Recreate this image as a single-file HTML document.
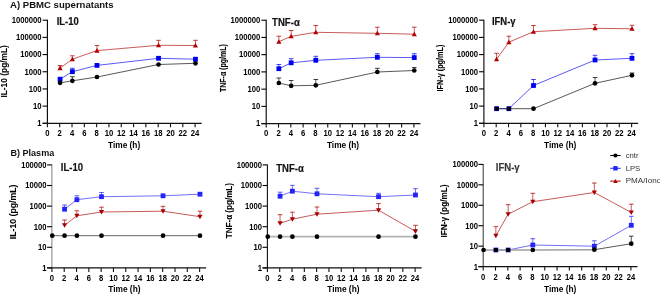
<!DOCTYPE html>
<html><head><meta charset="utf-8"><title>Cytokine time course</title>
<style>
html,body{margin:0;padding:0;background:#fff;}
body{width:660px;height:294px;overflow:hidden;font-family:"Liberation Sans",sans-serif;}
svg{display:block;will-change:transform;}
svg text{font-family:"Liberation Sans",sans-serif;}
</style></head><body>
<svg width="660" height="294" viewBox="0 0 660 294" font-family="Liberation Sans, sans-serif"><text x="10.1" y="7.8" font-size="9.7" font-weight="bold" text-anchor="start" fill="#111" textLength="103.5" lengthAdjust="spacingAndGlyphs">A) PBMC supernatants</text>
<text x="10.5" y="156.2" font-size="9.5" font-weight="bold" text-anchor="start" fill="#111" textLength="43.7" lengthAdjust="spacingAndGlyphs">B) Plasma</text>
<g><path d="M47.4 19.7V123.3" stroke="#000" stroke-width="1.1" fill="none"/><path d="M42.6 20.2H47.4" stroke="#000" stroke-width="1.1"/><text transform="translate(41.6 23) scale(0.94 1)" font-size="8.2" font-weight="bold" text-anchor="end" fill="#000">1000000</text><path d="M42.6 37.38H47.4" stroke="#000" stroke-width="1.1"/><text transform="translate(41.6 40.18) scale(0.94 1)" font-size="8.2" font-weight="bold" text-anchor="end" fill="#000">100000</text><path d="M42.6 54.57H47.4" stroke="#000" stroke-width="1.1"/><text transform="translate(41.6 57.37) scale(0.94 1)" font-size="8.2" font-weight="bold" text-anchor="end" fill="#000">10000</text><path d="M42.6 71.75H47.4" stroke="#000" stroke-width="1.1"/><text transform="translate(41.6 74.55) scale(0.94 1)" font-size="8.2" font-weight="bold" text-anchor="end" fill="#000">1000</text><path d="M42.6 88.93H47.4" stroke="#000" stroke-width="1.1"/><text transform="translate(41.6 91.73) scale(0.94 1)" font-size="8.2" font-weight="bold" text-anchor="end" fill="#000">100</text><path d="M42.6 106.12H47.4" stroke="#000" stroke-width="1.1"/><text transform="translate(41.6 108.92) scale(0.94 1)" font-size="8.2" font-weight="bold" text-anchor="end" fill="#000">10</text><path d="M42.6 123.3H47.4" stroke="#000" stroke-width="1.1"/><text transform="translate(41.6 126.1) scale(0.94 1)" font-size="8.2" font-weight="bold" text-anchor="end" fill="#000">1</text><path d="M42.6 123.3H201.68" stroke="#111" stroke-width="1.2" fill="none"/><path d="M47.4 123.3V127.3" stroke="#111" stroke-width="1.1"/><text transform="translate(47.4 135.9) scale(0.94 1)" font-size="8.2" font-weight="bold" text-anchor="middle" fill="#000">0</text><path d="M59.71 123.3V127.3" stroke="#111" stroke-width="1.1"/><text transform="translate(59.71 135.9) scale(0.94 1)" font-size="8.2" font-weight="bold" text-anchor="middle" fill="#000">2</text><path d="M72.02 123.3V127.3" stroke="#111" stroke-width="1.1"/><text transform="translate(72.02 135.9) scale(0.94 1)" font-size="8.2" font-weight="bold" text-anchor="middle" fill="#000">4</text><path d="M84.33 123.3V127.3" stroke="#111" stroke-width="1.1"/><text transform="translate(84.33 135.9) scale(0.94 1)" font-size="8.2" font-weight="bold" text-anchor="middle" fill="#000">6</text><path d="M96.64 123.3V127.3" stroke="#111" stroke-width="1.1"/><text transform="translate(96.64 135.9) scale(0.94 1)" font-size="8.2" font-weight="bold" text-anchor="middle" fill="#000">8</text><path d="M108.95 123.3V127.3" stroke="#111" stroke-width="1.1"/><text transform="translate(108.95 135.9) scale(0.94 1)" font-size="8.2" font-weight="bold" text-anchor="middle" fill="#000">10</text><path d="M121.26 123.3V127.3" stroke="#111" stroke-width="1.1"/><text transform="translate(121.26 135.9) scale(0.94 1)" font-size="8.2" font-weight="bold" text-anchor="middle" fill="#000">12</text><path d="M133.57 123.3V127.3" stroke="#111" stroke-width="1.1"/><text transform="translate(133.57 135.9) scale(0.94 1)" font-size="8.2" font-weight="bold" text-anchor="middle" fill="#000">14</text><path d="M145.88 123.3V127.3" stroke="#111" stroke-width="1.1"/><text transform="translate(145.88 135.9) scale(0.94 1)" font-size="8.2" font-weight="bold" text-anchor="middle" fill="#000">16</text><path d="M158.19 123.3V127.3" stroke="#111" stroke-width="1.1"/><text transform="translate(158.19 135.9) scale(0.94 1)" font-size="8.2" font-weight="bold" text-anchor="middle" fill="#000">18</text><path d="M170.5 123.3V127.3" stroke="#111" stroke-width="1.1"/><text transform="translate(170.5 135.9) scale(0.94 1)" font-size="8.2" font-weight="bold" text-anchor="middle" fill="#000">20</text><path d="M182.81 123.3V127.3" stroke="#111" stroke-width="1.1"/><text transform="translate(182.81 135.9) scale(0.94 1)" font-size="8.2" font-weight="bold" text-anchor="middle" fill="#000">22</text><path d="M195.12 123.3V127.3" stroke="#111" stroke-width="1.1"/><text transform="translate(195.12 135.9) scale(0.94 1)" font-size="8.2" font-weight="bold" text-anchor="middle" fill="#000">24</text><text x="124.1" y="147.5" font-size="8.8" font-weight="bold" text-anchor="middle" fill="#000" textLength="32.2" lengthAdjust="spacingAndGlyphs">Time (h)</text><text x="56.7" y="24.7" font-size="10.2" font-weight="bold" text-anchor="start" fill="#111" textLength="22" lengthAdjust="spacingAndGlyphs" stroke="#111" stroke-width="0.18">IL-10</text><text transform="translate(7.2 71.35) rotate(-90)" x="0" y="0" font-size="8.6" font-weight="bold" text-anchor="middle" textLength="52.5" lengthAdjust="spacingAndGlyphs" stroke="#000" stroke-width="0.08">IL-10 (pg/mL)</text><polyline points="60.06,68.1 72.37,59.2 96.99,50.6 158.54,45.3 195.47,45.5" fill="none" stroke="#b00000" stroke-width="0.65" stroke-linejoin="round"/><polyline points="60.06,79.2 72.37,71.7 96.99,65.4 158.54,58.3 195.47,59.2" fill="none" stroke="#0000f0" stroke-width="0.65" stroke-linejoin="round"/><polyline points="60.06,82.8 72.37,80.8 96.99,77 158.54,64.5 195.47,63.3" fill="none" stroke="#222" stroke-width="0.75" stroke-linejoin="round"/><path d="M60.06 68.1V65.5" stroke="#b00000" stroke-width="0.65" fill="none"/><path d="M57.76 65.5H62.36" stroke="#b00000" stroke-width="0.75" fill="none"/><path d="M72.37 59.2V55.8" stroke="#b00000" stroke-width="0.65" fill="none"/><path d="M70.07 55.8H74.67" stroke="#b00000" stroke-width="0.75" fill="none"/><path d="M96.99 50.6V45.5" stroke="#b00000" stroke-width="0.65" fill="none"/><path d="M94.69 45.5H99.29" stroke="#b00000" stroke-width="0.75" fill="none"/><path d="M158.54 45.3V40.3" stroke="#b00000" stroke-width="0.65" fill="none"/><path d="M156.24 40.3H160.84" stroke="#b00000" stroke-width="0.75" fill="none"/><path d="M195.47 45.5V40.3" stroke="#b00000" stroke-width="0.65" fill="none"/><path d="M193.17 40.3H197.77" stroke="#b00000" stroke-width="0.75" fill="none"/><path d="M72.37 71.7V68.3" stroke="#0000f0" stroke-width="0.65" fill="none"/><path d="M70.07 68.3H74.67" stroke="#0000f0" stroke-width="0.75" fill="none"/><path d="M72.37 80.8V76.7" stroke="#000" stroke-width="0.65" fill="none"/><path d="M70.07 76.7H74.67" stroke="#000" stroke-width="0.75" fill="none"/><path d="M60.06 65.57L62.66 70.17L57.46 70.17Z" fill="#b00000"/><path d="M72.37 56.67L74.97 61.27L69.77 61.27Z" fill="#b00000"/><path d="M96.99 48.07L99.59 52.67L94.39 52.67Z" fill="#b00000"/><path d="M158.54 42.77L161.14 47.37L155.94 47.37Z" fill="#b00000"/><path d="M195.47 42.97L198.07 47.57L192.87 47.57Z" fill="#b00000"/><rect x="57.66" y="76.8" width="4.8" height="4.8" fill="#0000f0"/><rect x="69.97" y="69.3" width="4.8" height="4.8" fill="#0000f0"/><rect x="94.59" y="63" width="4.8" height="4.8" fill="#0000f0"/><rect x="156.14" y="55.9" width="4.8" height="4.8" fill="#0000f0"/><rect x="193.07" y="56.8" width="4.8" height="4.8" fill="#0000f0"/><circle cx="60.06" cy="82.8" r="2.35" fill="#000"/><circle cx="72.37" cy="80.8" r="2.35" fill="#000"/><circle cx="96.99" cy="77" r="2.35" fill="#000"/><circle cx="158.54" cy="64.5" r="2.35" fill="#000"/><circle cx="195.47" cy="63.3" r="2.35" fill="#000"/></g>
<g><path d="M266.2 19.7V123.6" stroke="#000" stroke-width="1.1" fill="none"/><path d="M261.4 20.2H266.2" stroke="#000" stroke-width="1.1"/><text transform="translate(260.4 23) scale(0.94 1)" font-size="8.2" font-weight="bold" text-anchor="end" fill="#000">1000000</text><path d="M261.4 37.43H266.2" stroke="#000" stroke-width="1.1"/><text transform="translate(260.4 40.23) scale(0.94 1)" font-size="8.2" font-weight="bold" text-anchor="end" fill="#000">100000</text><path d="M261.4 54.67H266.2" stroke="#000" stroke-width="1.1"/><text transform="translate(260.4 57.47) scale(0.94 1)" font-size="8.2" font-weight="bold" text-anchor="end" fill="#000">10000</text><path d="M261.4 71.9H266.2" stroke="#000" stroke-width="1.1"/><text transform="translate(260.4 74.7) scale(0.94 1)" font-size="8.2" font-weight="bold" text-anchor="end" fill="#000">1000</text><path d="M261.4 89.13H266.2" stroke="#000" stroke-width="1.1"/><text transform="translate(260.4 91.93) scale(0.94 1)" font-size="8.2" font-weight="bold" text-anchor="end" fill="#000">100</text><path d="M261.4 106.37H266.2" stroke="#000" stroke-width="1.1"/><text transform="translate(260.4 109.17) scale(0.94 1)" font-size="8.2" font-weight="bold" text-anchor="end" fill="#000">10</text><path d="M261.4 123.6H266.2" stroke="#000" stroke-width="1.1"/><text transform="translate(260.4 126.4) scale(0.94 1)" font-size="8.2" font-weight="bold" text-anchor="end" fill="#000">1</text><path d="M261.4 123.6H420.47" stroke="#111" stroke-width="1.2" fill="none"/><path d="M266.2 123.6V127.6" stroke="#111" stroke-width="1.1"/><text transform="translate(266.2 136.2) scale(0.94 1)" font-size="8.2" font-weight="bold" text-anchor="middle" fill="#000">0</text><path d="M278.51 123.6V127.6" stroke="#111" stroke-width="1.1"/><text transform="translate(278.51 136.2) scale(0.94 1)" font-size="8.2" font-weight="bold" text-anchor="middle" fill="#000">2</text><path d="M290.82 123.6V127.6" stroke="#111" stroke-width="1.1"/><text transform="translate(290.82 136.2) scale(0.94 1)" font-size="8.2" font-weight="bold" text-anchor="middle" fill="#000">4</text><path d="M303.13 123.6V127.6" stroke="#111" stroke-width="1.1"/><text transform="translate(303.13 136.2) scale(0.94 1)" font-size="8.2" font-weight="bold" text-anchor="middle" fill="#000">6</text><path d="M315.44 123.6V127.6" stroke="#111" stroke-width="1.1"/><text transform="translate(315.44 136.2) scale(0.94 1)" font-size="8.2" font-weight="bold" text-anchor="middle" fill="#000">8</text><path d="M327.75 123.6V127.6" stroke="#111" stroke-width="1.1"/><text transform="translate(327.75 136.2) scale(0.94 1)" font-size="8.2" font-weight="bold" text-anchor="middle" fill="#000">10</text><path d="M340.06 123.6V127.6" stroke="#111" stroke-width="1.1"/><text transform="translate(340.06 136.2) scale(0.94 1)" font-size="8.2" font-weight="bold" text-anchor="middle" fill="#000">12</text><path d="M352.37 123.6V127.6" stroke="#111" stroke-width="1.1"/><text transform="translate(352.37 136.2) scale(0.94 1)" font-size="8.2" font-weight="bold" text-anchor="middle" fill="#000">14</text><path d="M364.68 123.6V127.6" stroke="#111" stroke-width="1.1"/><text transform="translate(364.68 136.2) scale(0.94 1)" font-size="8.2" font-weight="bold" text-anchor="middle" fill="#000">16</text><path d="M376.99 123.6V127.6" stroke="#111" stroke-width="1.1"/><text transform="translate(376.99 136.2) scale(0.94 1)" font-size="8.2" font-weight="bold" text-anchor="middle" fill="#000">18</text><path d="M389.3 123.6V127.6" stroke="#111" stroke-width="1.1"/><text transform="translate(389.3 136.2) scale(0.94 1)" font-size="8.2" font-weight="bold" text-anchor="middle" fill="#000">20</text><path d="M401.61 123.6V127.6" stroke="#111" stroke-width="1.1"/><text transform="translate(401.61 136.2) scale(0.94 1)" font-size="8.2" font-weight="bold" text-anchor="middle" fill="#000">22</text><path d="M413.92 123.6V127.6" stroke="#111" stroke-width="1.1"/><text transform="translate(413.92 136.2) scale(0.94 1)" font-size="8.2" font-weight="bold" text-anchor="middle" fill="#000">24</text><text x="343" y="147.5" font-size="8.8" font-weight="bold" text-anchor="middle" fill="#000" textLength="32.2" lengthAdjust="spacingAndGlyphs">Time (h)</text><text x="272.1" y="25.8" font-size="10.1" font-weight="bold" text-anchor="start" fill="#111" textLength="27.7" lengthAdjust="spacingAndGlyphs" stroke="#111" stroke-width="0.18">TNF-α</text><text transform="translate(226.4 68.1) rotate(-90)" x="0" y="0" font-size="8.6" font-weight="bold" text-anchor="middle" textLength="48" lengthAdjust="spacingAndGlyphs" stroke="#000" stroke-width="0.08">TNF-α (pg/mL)</text><polyline points="278.86,41.7 291.17,36.3 315.79,32.3 377.34,33.3 414.27,34.2" fill="none" stroke="#b00000" stroke-width="0.65" stroke-linejoin="round"/><polyline points="278.86,68.7 291.17,62.8 315.79,60.3 377.34,57.3 414.27,57.6" fill="none" stroke="#0000f0" stroke-width="0.65" stroke-linejoin="round"/><polyline points="278.86,83 291.17,85.8 315.79,85.3 377.34,72 414.27,70.5" fill="none" stroke="#222" stroke-width="0.75" stroke-linejoin="round"/><path d="M278.86 41.7V36.2" stroke="#b00000" stroke-width="0.65" fill="none"/><path d="M276.56 36.2H281.16" stroke="#b00000" stroke-width="0.75" fill="none"/><path d="M291.17 36.3V30.5" stroke="#b00000" stroke-width="0.65" fill="none"/><path d="M288.87 30.5H293.47" stroke="#b00000" stroke-width="0.75" fill="none"/><path d="M315.79 32.3V25.5" stroke="#b00000" stroke-width="0.65" fill="none"/><path d="M313.49 25.5H318.09" stroke="#b00000" stroke-width="0.75" fill="none"/><path d="M377.34 33.3V27.2" stroke="#b00000" stroke-width="0.65" fill="none"/><path d="M375.04 27.2H379.64" stroke="#b00000" stroke-width="0.75" fill="none"/><path d="M414.27 34.2V27.2" stroke="#b00000" stroke-width="0.65" fill="none"/><path d="M411.97 27.2H416.57" stroke="#b00000" stroke-width="0.75" fill="none"/><path d="M278.86 68.7V64.5" stroke="#0000f0" stroke-width="0.65" fill="none"/><path d="M276.56 64.5H281.16" stroke="#0000f0" stroke-width="0.75" fill="none"/><path d="M291.17 62.8V58.7" stroke="#0000f0" stroke-width="0.65" fill="none"/><path d="M288.87 58.7H293.47" stroke="#0000f0" stroke-width="0.75" fill="none"/><path d="M315.79 60.3V56.3" stroke="#0000f0" stroke-width="0.65" fill="none"/><path d="M313.49 56.3H318.09" stroke="#0000f0" stroke-width="0.75" fill="none"/><path d="M377.34 57.3V53.7" stroke="#0000f0" stroke-width="0.65" fill="none"/><path d="M375.04 53.7H379.64" stroke="#0000f0" stroke-width="0.75" fill="none"/><path d="M414.27 57.6V53.7" stroke="#0000f0" stroke-width="0.65" fill="none"/><path d="M411.97 53.7H416.57" stroke="#0000f0" stroke-width="0.75" fill="none"/><path d="M278.86 83V78" stroke="#000" stroke-width="0.65" fill="none"/><path d="M276.56 78H281.16" stroke="#000" stroke-width="0.75" fill="none"/><path d="M291.17 85.8V80.5" stroke="#000" stroke-width="0.65" fill="none"/><path d="M288.87 80.5H293.47" stroke="#000" stroke-width="0.75" fill="none"/><path d="M315.79 85.3V79.5" stroke="#000" stroke-width="0.65" fill="none"/><path d="M313.49 79.5H318.09" stroke="#000" stroke-width="0.75" fill="none"/><path d="M377.34 72V68.3" stroke="#000" stroke-width="0.65" fill="none"/><path d="M375.04 68.3H379.64" stroke="#000" stroke-width="0.75" fill="none"/><path d="M414.27 70.5V67.5" stroke="#000" stroke-width="0.65" fill="none"/><path d="M411.97 67.5H416.57" stroke="#000" stroke-width="0.75" fill="none"/><path d="M278.86 39.17L281.46 43.77L276.26 43.77Z" fill="#b00000"/><path d="M291.17 33.77L293.77 38.37L288.57 38.37Z" fill="#b00000"/><path d="M315.79 29.77L318.39 34.37L313.19 34.37Z" fill="#b00000"/><path d="M377.34 30.77L379.94 35.37L374.74 35.37Z" fill="#b00000"/><path d="M414.27 31.67L416.87 36.27L411.67 36.27Z" fill="#b00000"/><rect x="276.46" y="66.3" width="4.8" height="4.8" fill="#0000f0"/><rect x="288.77" y="60.4" width="4.8" height="4.8" fill="#0000f0"/><rect x="313.39" y="57.9" width="4.8" height="4.8" fill="#0000f0"/><rect x="374.94" y="54.9" width="4.8" height="4.8" fill="#0000f0"/><rect x="411.87" y="55.2" width="4.8" height="4.8" fill="#0000f0"/><circle cx="278.86" cy="83" r="2.35" fill="#000"/><circle cx="291.17" cy="85.8" r="2.35" fill="#000"/><circle cx="315.79" cy="85.3" r="2.35" fill="#000"/><circle cx="377.34" cy="72" r="2.35" fill="#000"/><circle cx="414.27" cy="70.5" r="2.35" fill="#000"/></g>
<g><path d="M483.9 19.7V123.3" stroke="#000" stroke-width="1.1" fill="none"/><path d="M479.1 20.2H483.9" stroke="#000" stroke-width="1.1"/><text transform="translate(478.1 23) scale(0.94 1)" font-size="8.2" font-weight="bold" text-anchor="end" fill="#000">1000000</text><path d="M479.1 37.38H483.9" stroke="#000" stroke-width="1.1"/><text transform="translate(478.1 40.18) scale(0.94 1)" font-size="8.2" font-weight="bold" text-anchor="end" fill="#000">100000</text><path d="M479.1 54.57H483.9" stroke="#000" stroke-width="1.1"/><text transform="translate(478.1 57.37) scale(0.94 1)" font-size="8.2" font-weight="bold" text-anchor="end" fill="#000">10000</text><path d="M479.1 71.75H483.9" stroke="#000" stroke-width="1.1"/><text transform="translate(478.1 74.55) scale(0.94 1)" font-size="8.2" font-weight="bold" text-anchor="end" fill="#000">1000</text><path d="M479.1 88.93H483.9" stroke="#000" stroke-width="1.1"/><text transform="translate(478.1 91.73) scale(0.94 1)" font-size="8.2" font-weight="bold" text-anchor="end" fill="#000">100</text><path d="M479.1 106.12H483.9" stroke="#000" stroke-width="1.1"/><text transform="translate(478.1 108.92) scale(0.94 1)" font-size="8.2" font-weight="bold" text-anchor="end" fill="#000">10</text><path d="M479.1 123.3H483.9" stroke="#000" stroke-width="1.1"/><text transform="translate(478.1 126.1) scale(0.94 1)" font-size="8.2" font-weight="bold" text-anchor="end" fill="#000">1</text><path d="M479.1 123.3H638.17" stroke="#111" stroke-width="1.2" fill="none"/><path d="M483.9 123.3V127.3" stroke="#111" stroke-width="1.1"/><text transform="translate(483.9 135.9) scale(0.94 1)" font-size="8.2" font-weight="bold" text-anchor="middle" fill="#000">0</text><path d="M496.21 123.3V127.3" stroke="#111" stroke-width="1.1"/><text transform="translate(496.21 135.9) scale(0.94 1)" font-size="8.2" font-weight="bold" text-anchor="middle" fill="#000">2</text><path d="M508.52 123.3V127.3" stroke="#111" stroke-width="1.1"/><text transform="translate(508.52 135.9) scale(0.94 1)" font-size="8.2" font-weight="bold" text-anchor="middle" fill="#000">4</text><path d="M520.83 123.3V127.3" stroke="#111" stroke-width="1.1"/><text transform="translate(520.83 135.9) scale(0.94 1)" font-size="8.2" font-weight="bold" text-anchor="middle" fill="#000">6</text><path d="M533.14 123.3V127.3" stroke="#111" stroke-width="1.1"/><text transform="translate(533.14 135.9) scale(0.94 1)" font-size="8.2" font-weight="bold" text-anchor="middle" fill="#000">8</text><path d="M545.45 123.3V127.3" stroke="#111" stroke-width="1.1"/><text transform="translate(545.45 135.9) scale(0.94 1)" font-size="8.2" font-weight="bold" text-anchor="middle" fill="#000">10</text><path d="M557.76 123.3V127.3" stroke="#111" stroke-width="1.1"/><text transform="translate(557.76 135.9) scale(0.94 1)" font-size="8.2" font-weight="bold" text-anchor="middle" fill="#000">12</text><path d="M570.07 123.3V127.3" stroke="#111" stroke-width="1.1"/><text transform="translate(570.07 135.9) scale(0.94 1)" font-size="8.2" font-weight="bold" text-anchor="middle" fill="#000">14</text><path d="M582.38 123.3V127.3" stroke="#111" stroke-width="1.1"/><text transform="translate(582.38 135.9) scale(0.94 1)" font-size="8.2" font-weight="bold" text-anchor="middle" fill="#000">16</text><path d="M594.69 123.3V127.3" stroke="#111" stroke-width="1.1"/><text transform="translate(594.69 135.9) scale(0.94 1)" font-size="8.2" font-weight="bold" text-anchor="middle" fill="#000">18</text><path d="M607 123.3V127.3" stroke="#111" stroke-width="1.1"/><text transform="translate(607 135.9) scale(0.94 1)" font-size="8.2" font-weight="bold" text-anchor="middle" fill="#000">20</text><path d="M619.31 123.3V127.3" stroke="#111" stroke-width="1.1"/><text transform="translate(619.31 135.9) scale(0.94 1)" font-size="8.2" font-weight="bold" text-anchor="middle" fill="#000">22</text><path d="M631.62 123.3V127.3" stroke="#111" stroke-width="1.1"/><text transform="translate(631.62 135.9) scale(0.94 1)" font-size="8.2" font-weight="bold" text-anchor="middle" fill="#000">24</text><text x="560.2" y="147.5" font-size="8.8" font-weight="bold" text-anchor="middle" fill="#000" textLength="32.2" lengthAdjust="spacingAndGlyphs">Time (h)</text><text x="491.9" y="24.7" font-size="10.2" font-weight="bold" text-anchor="start" fill="#111" textLength="23.7" lengthAdjust="spacingAndGlyphs" stroke="#111" stroke-width="0.18">IFN-γ</text><text transform="translate(443.4 68.05) rotate(-90)" x="0" y="0" font-size="8.6" font-weight="bold" text-anchor="middle" textLength="46.9" lengthAdjust="spacingAndGlyphs" stroke="#000" stroke-width="0.08">IFN-γ (pg/mL)</text><polyline points="496.56,59.2 508.87,42.2 533.49,31.7 595.04,28.3 631.97,28.8" fill="none" stroke="#b00000" stroke-width="0.65" stroke-linejoin="round"/><polyline points="496.56,108.7 508.87,108.7 533.49,85.5 595.04,60 631.97,58.3" fill="none" stroke="#0000f0" stroke-width="0.65" stroke-linejoin="round"/><polyline points="496.56,108.7 508.87,108.7 533.49,108.7 595.04,83.3 631.97,75.3" fill="none" stroke="#222" stroke-width="0.75" stroke-linejoin="round"/><path d="M496.56 59.2V53.3" stroke="#b00000" stroke-width="0.65" fill="none"/><path d="M494.26 53.3H498.86" stroke="#b00000" stroke-width="0.75" fill="none"/><path d="M508.87 42.2V36.2" stroke="#b00000" stroke-width="0.65" fill="none"/><path d="M506.57 36.2H511.17" stroke="#b00000" stroke-width="0.75" fill="none"/><path d="M533.49 31.7V25.5" stroke="#b00000" stroke-width="0.65" fill="none"/><path d="M531.19 25.5H535.79" stroke="#b00000" stroke-width="0.75" fill="none"/><path d="M595.04 28.3V24.7" stroke="#b00000" stroke-width="0.65" fill="none"/><path d="M592.74 24.7H597.34" stroke="#b00000" stroke-width="0.75" fill="none"/><path d="M631.97 28.8V25.3" stroke="#b00000" stroke-width="0.65" fill="none"/><path d="M629.67 25.3H634.27" stroke="#b00000" stroke-width="0.75" fill="none"/><path d="M533.49 85.5V79.5" stroke="#0000f0" stroke-width="0.65" fill="none"/><path d="M531.19 79.5H535.79" stroke="#0000f0" stroke-width="0.75" fill="none"/><path d="M595.04 60V55.3" stroke="#0000f0" stroke-width="0.65" fill="none"/><path d="M592.74 55.3H597.34" stroke="#0000f0" stroke-width="0.75" fill="none"/><path d="M631.97 58.3V53.7" stroke="#0000f0" stroke-width="0.65" fill="none"/><path d="M629.67 53.7H634.27" stroke="#0000f0" stroke-width="0.75" fill="none"/><path d="M595.04 83.3V77.5" stroke="#000" stroke-width="0.65" fill="none"/><path d="M592.74 77.5H597.34" stroke="#000" stroke-width="0.75" fill="none"/><path d="M631.97 75.3V73" stroke="#000" stroke-width="0.65" fill="none"/><path d="M629.67 73H634.27" stroke="#000" stroke-width="0.75" fill="none"/><path d="M496.56 56.67L499.16 61.27L493.96 61.27Z" fill="#b00000"/><path d="M508.87 39.67L511.47 44.27L506.27 44.27Z" fill="#b00000"/><path d="M533.49 29.17L536.09 33.77L530.89 33.77Z" fill="#b00000"/><path d="M595.04 25.77L597.64 30.37L592.44 30.37Z" fill="#b00000"/><path d="M631.97 26.27L634.57 30.87L629.37 30.87Z" fill="#b00000"/><rect x="494.16" y="106.3" width="4.8" height="4.8" fill="#0000f0"/><rect x="506.47" y="106.3" width="4.8" height="4.8" fill="#0000f0"/><rect x="531.09" y="83.1" width="4.8" height="4.8" fill="#0000f0"/><rect x="592.64" y="57.6" width="4.8" height="4.8" fill="#0000f0"/><rect x="629.57" y="55.9" width="4.8" height="4.8" fill="#0000f0"/><rect x="494.56" y="106.7" width="4" height="4" rx="0.8" fill="#000"/><rect x="506.87" y="106.7" width="4" height="4" rx="0.8" fill="#000"/><circle cx="533.49" cy="108.7" r="2.35" fill="#000"/><circle cx="595.04" cy="83.3" r="2.35" fill="#000"/><circle cx="631.97" cy="75.3" r="2.35" fill="#000"/></g>
<g><path d="M51.9 164.4V267.9" stroke="#8a8a8a" stroke-width="1.1" fill="none"/><path d="M47.1 164.9H51.9" stroke="#000" stroke-width="1.1"/><text transform="translate(46.6 167.85) scale(0.92 1)" font-size="8.3" font-weight="bold" text-anchor="end" fill="#000">100000</text><path d="M47.1 185.5H51.9" stroke="#000" stroke-width="1.1"/><text transform="translate(46.6 188.45) scale(0.92 1)" font-size="8.3" font-weight="bold" text-anchor="end" fill="#000">10000</text><path d="M47.1 206.1H51.9" stroke="#000" stroke-width="1.1"/><text transform="translate(46.6 209.05) scale(0.92 1)" font-size="8.3" font-weight="bold" text-anchor="end" fill="#000">1000</text><path d="M47.1 226.7H51.9" stroke="#000" stroke-width="1.1"/><text transform="translate(46.6 229.65) scale(0.92 1)" font-size="8.3" font-weight="bold" text-anchor="end" fill="#000">100</text><path d="M47.1 247.3H51.9" stroke="#000" stroke-width="1.1"/><text transform="translate(46.6 250.25) scale(0.92 1)" font-size="8.3" font-weight="bold" text-anchor="end" fill="#000">10</text><path d="M47.1 267.9H51.9" stroke="#000" stroke-width="1.1"/><text transform="translate(46.6 270.85) scale(0.92 1)" font-size="8.3" font-weight="bold" text-anchor="end" fill="#000">1</text><path d="M47.1 267.9H206.18" stroke="#111" stroke-width="1.2" fill="none"/><path d="M51.9 267.9V271.9" stroke="#111" stroke-width="1.1"/><text transform="translate(51.9 280.9) scale(0.92 1)" font-size="8.3" font-weight="bold" text-anchor="middle" fill="#000">0</text><path d="M64.21 267.9V271.9" stroke="#111" stroke-width="1.1"/><text transform="translate(64.21 280.9) scale(0.92 1)" font-size="8.3" font-weight="bold" text-anchor="middle" fill="#000">2</text><path d="M76.52 267.9V271.9" stroke="#111" stroke-width="1.1"/><text transform="translate(76.52 280.9) scale(0.92 1)" font-size="8.3" font-weight="bold" text-anchor="middle" fill="#000">4</text><path d="M88.83 267.9V271.9" stroke="#111" stroke-width="1.1"/><text transform="translate(88.83 280.9) scale(0.92 1)" font-size="8.3" font-weight="bold" text-anchor="middle" fill="#000">6</text><path d="M101.14 267.9V271.9" stroke="#111" stroke-width="1.1"/><text transform="translate(101.14 280.9) scale(0.92 1)" font-size="8.3" font-weight="bold" text-anchor="middle" fill="#000">8</text><path d="M113.45 267.9V271.9" stroke="#111" stroke-width="1.1"/><text transform="translate(113.45 280.9) scale(0.92 1)" font-size="8.3" font-weight="bold" text-anchor="middle" fill="#000">10</text><path d="M125.76 267.9V271.9" stroke="#111" stroke-width="1.1"/><text transform="translate(125.76 280.9) scale(0.92 1)" font-size="8.3" font-weight="bold" text-anchor="middle" fill="#000">12</text><path d="M138.07 267.9V271.9" stroke="#111" stroke-width="1.1"/><text transform="translate(138.07 280.9) scale(0.92 1)" font-size="8.3" font-weight="bold" text-anchor="middle" fill="#000">14</text><path d="M150.38 267.9V271.9" stroke="#111" stroke-width="1.1"/><text transform="translate(150.38 280.9) scale(0.92 1)" font-size="8.3" font-weight="bold" text-anchor="middle" fill="#000">16</text><path d="M162.69 267.9V271.9" stroke="#111" stroke-width="1.1"/><text transform="translate(162.69 280.9) scale(0.92 1)" font-size="8.3" font-weight="bold" text-anchor="middle" fill="#000">18</text><path d="M175 267.9V271.9" stroke="#111" stroke-width="1.1"/><text transform="translate(175 280.9) scale(0.92 1)" font-size="8.3" font-weight="bold" text-anchor="middle" fill="#000">20</text><path d="M187.31 267.9V271.9" stroke="#111" stroke-width="1.1"/><text transform="translate(187.31 280.9) scale(0.92 1)" font-size="8.3" font-weight="bold" text-anchor="middle" fill="#000">22</text><path d="M199.62 267.9V271.9" stroke="#111" stroke-width="1.1"/><text transform="translate(199.62 280.9) scale(0.92 1)" font-size="8.3" font-weight="bold" text-anchor="middle" fill="#000">24</text><text x="124.4" y="291.7" font-size="8.8" font-weight="bold" text-anchor="middle" fill="#000" textLength="32.2" lengthAdjust="spacingAndGlyphs">Time (h)</text><text x="60.8" y="170.8" font-size="10.3" font-weight="bold" text-anchor="start" fill="#111" textLength="22.2" lengthAdjust="spacingAndGlyphs" stroke="#111" stroke-width="0.18">IL-10</text><text transform="translate(16.3 211.85) rotate(-90)" x="0" y="0" font-size="8.6" font-weight="bold" text-anchor="middle" textLength="54.7" lengthAdjust="spacingAndGlyphs" stroke="#000" stroke-width="0.08">IL-10 (pg/mL)</text><polyline points="64.56,225.3 76.87,215.8 101.49,212 163.04,211.2 199.97,216.7" fill="none" stroke="#a80000" stroke-width="0.65" stroke-linejoin="round"/><polyline points="64.56,209.2 76.87,199.7 101.49,196.7 163.04,195.8 199.97,194.2" fill="none" stroke="#2424f4" stroke-width="0.65" stroke-linejoin="round"/><polyline points="52.25,235.7 64.56,235.7 76.87,235.7 101.49,235.7 163.04,235.7 199.97,235.7" fill="none" stroke="#555" stroke-width="0.9" stroke-linejoin="round"/><path d="M64.56 225.3V220" stroke="#a80000" stroke-width="0.65" fill="none"/><path d="M62.26 220H66.86" stroke="#a80000" stroke-width="0.75" fill="none"/><path d="M76.87 215.8V210.8" stroke="#a80000" stroke-width="0.65" fill="none"/><path d="M74.57 210.8H79.17" stroke="#a80000" stroke-width="0.75" fill="none"/><path d="M101.49 212V207.2" stroke="#a80000" stroke-width="0.65" fill="none"/><path d="M99.19 207.2H103.79" stroke="#a80000" stroke-width="0.75" fill="none"/><path d="M163.04 211.2V206.3" stroke="#a80000" stroke-width="0.65" fill="none"/><path d="M160.74 206.3H165.34" stroke="#a80000" stroke-width="0.75" fill="none"/><path d="M199.97 216.7V211.2" stroke="#a80000" stroke-width="0.65" fill="none"/><path d="M197.67 211.2H202.27" stroke="#a80000" stroke-width="0.75" fill="none"/><path d="M64.56 209.2V205" stroke="#2424f4" stroke-width="0.65" fill="none"/><path d="M62.26 205H66.86" stroke="#2424f4" stroke-width="0.75" fill="none"/><path d="M76.87 199.7V195.8" stroke="#2424f4" stroke-width="0.65" fill="none"/><path d="M74.57 195.8H79.17" stroke="#2424f4" stroke-width="0.75" fill="none"/><path d="M101.49 196.7V192.5" stroke="#2424f4" stroke-width="0.65" fill="none"/><path d="M99.19 192.5H103.79" stroke="#2424f4" stroke-width="0.75" fill="none"/><path d="M64.56 227.83L67.16 223.23L61.96 223.23Z" fill="#a80000"/><path d="M76.87 218.33L79.47 213.73L74.27 213.73Z" fill="#a80000"/><path d="M101.49 214.53L104.09 209.93L98.89 209.93Z" fill="#a80000"/><path d="M163.04 213.73L165.64 209.13L160.44 209.13Z" fill="#a80000"/><path d="M199.97 219.23L202.57 214.63L197.37 214.63Z" fill="#a80000"/><rect x="62.16" y="206.8" width="4.8" height="4.8" fill="#2424f4"/><rect x="74.47" y="197.3" width="4.8" height="4.8" fill="#2424f4"/><rect x="99.09" y="194.3" width="4.8" height="4.8" fill="#2424f4"/><rect x="160.64" y="193.4" width="4.8" height="4.8" fill="#2424f4"/><rect x="197.57" y="191.8" width="4.8" height="4.8" fill="#2424f4"/><circle cx="52.25" cy="235.7" r="2.35" fill="#000"/><circle cx="64.56" cy="235.7" r="2.35" fill="#000"/><circle cx="76.87" cy="235.7" r="2.35" fill="#000"/><circle cx="101.49" cy="235.7" r="2.35" fill="#000"/><circle cx="163.04" cy="235.7" r="2.35" fill="#000"/><circle cx="199.97" cy="235.7" r="2.35" fill="#000"/></g>
<g><path d="M267.4 164.4V267.9" stroke="#111" stroke-width="1.1" fill="none"/><path d="M262.6 164.9H267.4" stroke="#000" stroke-width="1.1"/><text transform="translate(262.1 167.85) scale(0.92 1)" font-size="8.3" font-weight="bold" text-anchor="end" fill="#000">100000</text><path d="M262.6 185.5H267.4" stroke="#000" stroke-width="1.1"/><text transform="translate(262.1 188.45) scale(0.92 1)" font-size="8.3" font-weight="bold" text-anchor="end" fill="#000">10000</text><path d="M262.6 206.1H267.4" stroke="#000" stroke-width="1.1"/><text transform="translate(262.1 209.05) scale(0.92 1)" font-size="8.3" font-weight="bold" text-anchor="end" fill="#000">1000</text><path d="M262.6 226.7H267.4" stroke="#000" stroke-width="1.1"/><text transform="translate(262.1 229.65) scale(0.92 1)" font-size="8.3" font-weight="bold" text-anchor="end" fill="#000">100</text><path d="M262.6 247.3H267.4" stroke="#000" stroke-width="1.1"/><text transform="translate(262.1 250.25) scale(0.92 1)" font-size="8.3" font-weight="bold" text-anchor="end" fill="#000">10</text><path d="M262.6 267.9H267.4" stroke="#000" stroke-width="1.1"/><text transform="translate(262.1 270.85) scale(0.92 1)" font-size="8.3" font-weight="bold" text-anchor="end" fill="#000">1</text><path d="M262.6 267.9H421.67" stroke="#111" stroke-width="1.2" fill="none"/><path d="M267.4 267.9V271.9" stroke="#111" stroke-width="1.1"/><text transform="translate(267.4 280.9) scale(0.92 1)" font-size="8.3" font-weight="bold" text-anchor="middle" fill="#000">0</text><path d="M279.71 267.9V271.9" stroke="#111" stroke-width="1.1"/><text transform="translate(279.71 280.9) scale(0.92 1)" font-size="8.3" font-weight="bold" text-anchor="middle" fill="#000">2</text><path d="M292.02 267.9V271.9" stroke="#111" stroke-width="1.1"/><text transform="translate(292.02 280.9) scale(0.92 1)" font-size="8.3" font-weight="bold" text-anchor="middle" fill="#000">4</text><path d="M304.33 267.9V271.9" stroke="#111" stroke-width="1.1"/><text transform="translate(304.33 280.9) scale(0.92 1)" font-size="8.3" font-weight="bold" text-anchor="middle" fill="#000">6</text><path d="M316.64 267.9V271.9" stroke="#111" stroke-width="1.1"/><text transform="translate(316.64 280.9) scale(0.92 1)" font-size="8.3" font-weight="bold" text-anchor="middle" fill="#000">8</text><path d="M328.95 267.9V271.9" stroke="#111" stroke-width="1.1"/><text transform="translate(328.95 280.9) scale(0.92 1)" font-size="8.3" font-weight="bold" text-anchor="middle" fill="#000">10</text><path d="M341.26 267.9V271.9" stroke="#111" stroke-width="1.1"/><text transform="translate(341.26 280.9) scale(0.92 1)" font-size="8.3" font-weight="bold" text-anchor="middle" fill="#000">12</text><path d="M353.57 267.9V271.9" stroke="#111" stroke-width="1.1"/><text transform="translate(353.57 280.9) scale(0.92 1)" font-size="8.3" font-weight="bold" text-anchor="middle" fill="#000">14</text><path d="M365.88 267.9V271.9" stroke="#111" stroke-width="1.1"/><text transform="translate(365.88 280.9) scale(0.92 1)" font-size="8.3" font-weight="bold" text-anchor="middle" fill="#000">16</text><path d="M378.19 267.9V271.9" stroke="#111" stroke-width="1.1"/><text transform="translate(378.19 280.9) scale(0.92 1)" font-size="8.3" font-weight="bold" text-anchor="middle" fill="#000">18</text><path d="M390.5 267.9V271.9" stroke="#111" stroke-width="1.1"/><text transform="translate(390.5 280.9) scale(0.92 1)" font-size="8.3" font-weight="bold" text-anchor="middle" fill="#000">20</text><path d="M402.81 267.9V271.9" stroke="#111" stroke-width="1.1"/><text transform="translate(402.81 280.9) scale(0.92 1)" font-size="8.3" font-weight="bold" text-anchor="middle" fill="#000">22</text><path d="M415.12 267.9V271.9" stroke="#111" stroke-width="1.1"/><text transform="translate(415.12 280.9) scale(0.92 1)" font-size="8.3" font-weight="bold" text-anchor="middle" fill="#000">24</text><text x="343.4" y="291.7" font-size="8.8" font-weight="bold" text-anchor="middle" fill="#000" textLength="32.2" lengthAdjust="spacingAndGlyphs">Time (h)</text><text x="276.2" y="172.2" font-size="10.3" font-weight="bold" text-anchor="start" fill="#111" textLength="27.6" lengthAdjust="spacingAndGlyphs" stroke="#111" stroke-width="0.18">TNF-α</text><text transform="translate(232.3 210.65) rotate(-90)" x="0" y="0" font-size="8.6" font-weight="bold" text-anchor="middle" textLength="55.3" lengthAdjust="spacingAndGlyphs" stroke="#000" stroke-width="0.08">TNF-α (pg/mL)</text><polyline points="280.06,223.3 292.37,219.2 316.99,214.2 378.54,210.2 415.47,231.4" fill="none" stroke="#a80000" stroke-width="0.65" stroke-linejoin="round"/><polyline points="280.06,196.2 292.37,191.2 316.99,193.8 378.54,196.7 415.47,195" fill="none" stroke="#2424f4" stroke-width="0.65" stroke-linejoin="round"/><polyline points="267.75,236.7 280.06,236.7 292.37,236.7 316.99,236.7 378.54,236.7 415.47,236.7" fill="none" stroke="#b4b4b4" stroke-width="1.8" stroke-linejoin="round"/><path d="M280.06 223.3V214.7" stroke="#a80000" stroke-width="0.65" fill="none"/><path d="M277.76 214.7H282.36" stroke="#a80000" stroke-width="0.75" fill="none"/><path d="M292.37 219.2V212.2" stroke="#a80000" stroke-width="0.65" fill="none"/><path d="M290.07 212.2H294.67" stroke="#a80000" stroke-width="0.75" fill="none"/><path d="M316.99 214.2V207" stroke="#a80000" stroke-width="0.65" fill="none"/><path d="M314.69 207H319.29" stroke="#a80000" stroke-width="0.75" fill="none"/><path d="M378.54 210.2V203.6" stroke="#a80000" stroke-width="0.65" fill="none"/><path d="M376.24 203.6H380.84" stroke="#a80000" stroke-width="0.75" fill="none"/><path d="M415.47 231.4V225.3" stroke="#a80000" stroke-width="0.65" fill="none"/><path d="M413.17 225.3H417.77" stroke="#a80000" stroke-width="0.75" fill="none"/><path d="M280.06 196.2V192.2" stroke="#2424f4" stroke-width="0.65" fill="none"/><path d="M277.76 192.2H282.36" stroke="#2424f4" stroke-width="0.75" fill="none"/><path d="M292.37 191.2V185.3" stroke="#2424f4" stroke-width="0.65" fill="none"/><path d="M290.07 185.3H294.67" stroke="#2424f4" stroke-width="0.75" fill="none"/><path d="M316.99 193.8V188.3" stroke="#2424f4" stroke-width="0.65" fill="none"/><path d="M314.69 188.3H319.29" stroke="#2424f4" stroke-width="0.75" fill="none"/><path d="M378.54 196.7V193.3" stroke="#2424f4" stroke-width="0.65" fill="none"/><path d="M376.24 193.3H380.84" stroke="#2424f4" stroke-width="0.75" fill="none"/><path d="M415.47 195V188.7" stroke="#2424f4" stroke-width="0.65" fill="none"/><path d="M413.17 188.7H417.77" stroke="#2424f4" stroke-width="0.75" fill="none"/><path d="M280.06 225.83L282.66 221.23L277.46 221.23Z" fill="#a80000"/><path d="M292.37 221.73L294.97 217.13L289.77 217.13Z" fill="#a80000"/><path d="M316.99 216.73L319.59 212.13L314.39 212.13Z" fill="#a80000"/><path d="M378.54 212.73L381.14 208.13L375.94 208.13Z" fill="#a80000"/><path d="M415.47 233.93L418.07 229.33L412.87 229.33Z" fill="#a80000"/><rect x="277.66" y="193.8" width="4.8" height="4.8" fill="#2424f4"/><rect x="289.97" y="188.8" width="4.8" height="4.8" fill="#2424f4"/><rect x="314.59" y="191.4" width="4.8" height="4.8" fill="#2424f4"/><rect x="376.14" y="194.3" width="4.8" height="4.8" fill="#2424f4"/><rect x="413.07" y="192.6" width="4.8" height="4.8" fill="#2424f4"/><circle cx="267.75" cy="236.7" r="2.35" fill="#000"/><circle cx="280.06" cy="236.7" r="2.35" fill="#000"/><circle cx="292.37" cy="236.7" r="2.35" fill="#000"/><circle cx="316.99" cy="236.7" r="2.35" fill="#000"/><circle cx="378.54" cy="236.7" r="2.35" fill="#000"/><circle cx="415.47" cy="236.7" r="2.35" fill="#000"/></g>
<g><path d="M483.2 163.9V266.6" stroke="#444" stroke-width="1.1" fill="none"/><path d="M478.4 164.4H483.2" stroke="#000" stroke-width="1.1"/><text transform="translate(477.9 167.35) scale(0.92 1)" font-size="8.3" font-weight="bold" text-anchor="end" fill="#000">100000</text><path d="M478.4 184.84H483.2" stroke="#000" stroke-width="1.1"/><text transform="translate(477.9 187.79) scale(0.92 1)" font-size="8.3" font-weight="bold" text-anchor="end" fill="#000">10000</text><path d="M478.4 205.28H483.2" stroke="#000" stroke-width="1.1"/><text transform="translate(477.9 208.23) scale(0.92 1)" font-size="8.3" font-weight="bold" text-anchor="end" fill="#000">1000</text><path d="M478.4 225.72H483.2" stroke="#000" stroke-width="1.1"/><text transform="translate(477.9 228.67) scale(0.92 1)" font-size="8.3" font-weight="bold" text-anchor="end" fill="#000">100</text><path d="M478.4 246.16H483.2" stroke="#000" stroke-width="1.1"/><text transform="translate(477.9 249.11) scale(0.92 1)" font-size="8.3" font-weight="bold" text-anchor="end" fill="#000">10</text><path d="M478.4 266.6H483.2" stroke="#000" stroke-width="1.1"/><text transform="translate(477.9 269.55) scale(0.92 1)" font-size="8.3" font-weight="bold" text-anchor="end" fill="#000">1</text><path d="M478.4 266.6H637.48" stroke="#111" stroke-width="1.2" fill="none"/><path d="M483.2 266.6V270.6" stroke="#111" stroke-width="1.1"/><text transform="translate(483.2 279.6) scale(0.92 1)" font-size="8.3" font-weight="bold" text-anchor="middle" fill="#000">0</text><path d="M495.51 266.6V270.6" stroke="#111" stroke-width="1.1"/><text transform="translate(495.51 279.6) scale(0.92 1)" font-size="8.3" font-weight="bold" text-anchor="middle" fill="#000">2</text><path d="M507.82 266.6V270.6" stroke="#111" stroke-width="1.1"/><text transform="translate(507.82 279.6) scale(0.92 1)" font-size="8.3" font-weight="bold" text-anchor="middle" fill="#000">4</text><path d="M520.13 266.6V270.6" stroke="#111" stroke-width="1.1"/><text transform="translate(520.13 279.6) scale(0.92 1)" font-size="8.3" font-weight="bold" text-anchor="middle" fill="#000">6</text><path d="M532.44 266.6V270.6" stroke="#111" stroke-width="1.1"/><text transform="translate(532.44 279.6) scale(0.92 1)" font-size="8.3" font-weight="bold" text-anchor="middle" fill="#000">8</text><path d="M544.75 266.6V270.6" stroke="#111" stroke-width="1.1"/><text transform="translate(544.75 279.6) scale(0.92 1)" font-size="8.3" font-weight="bold" text-anchor="middle" fill="#000">10</text><path d="M557.06 266.6V270.6" stroke="#111" stroke-width="1.1"/><text transform="translate(557.06 279.6) scale(0.92 1)" font-size="8.3" font-weight="bold" text-anchor="middle" fill="#000">12</text><path d="M569.37 266.6V270.6" stroke="#111" stroke-width="1.1"/><text transform="translate(569.37 279.6) scale(0.92 1)" font-size="8.3" font-weight="bold" text-anchor="middle" fill="#000">14</text><path d="M581.68 266.6V270.6" stroke="#111" stroke-width="1.1"/><text transform="translate(581.68 279.6) scale(0.92 1)" font-size="8.3" font-weight="bold" text-anchor="middle" fill="#000">16</text><path d="M593.99 266.6V270.6" stroke="#111" stroke-width="1.1"/><text transform="translate(593.99 279.6) scale(0.92 1)" font-size="8.3" font-weight="bold" text-anchor="middle" fill="#000">18</text><path d="M606.3 266.6V270.6" stroke="#111" stroke-width="1.1"/><text transform="translate(606.3 279.6) scale(0.92 1)" font-size="8.3" font-weight="bold" text-anchor="middle" fill="#000">20</text><path d="M618.61 266.6V270.6" stroke="#111" stroke-width="1.1"/><text transform="translate(618.61 279.6) scale(0.92 1)" font-size="8.3" font-weight="bold" text-anchor="middle" fill="#000">22</text><path d="M630.92 266.6V270.6" stroke="#111" stroke-width="1.1"/><text transform="translate(630.92 279.6) scale(0.92 1)" font-size="8.3" font-weight="bold" text-anchor="middle" fill="#000">24</text><text x="560.2" y="291.7" font-size="8.8" font-weight="bold" text-anchor="middle" fill="#000" textLength="32.2" lengthAdjust="spacingAndGlyphs">Time (h)</text><text x="495.8" y="170.8" font-size="10.3" font-weight="bold" text-anchor="start" fill="#3a3a3a" textLength="23.9" lengthAdjust="spacingAndGlyphs" stroke="#3a3a3a" stroke-width="0.18">IFN-γ</text><text transform="translate(446.8 211) rotate(-90)" x="0" y="0" font-size="8.6" font-weight="bold" text-anchor="middle" textLength="53.2" lengthAdjust="spacingAndGlyphs" stroke="#000" stroke-width="0.08">IFN-γ (pg/mL)</text><polyline points="495.86,235.8 508.17,214.2 532.79,201.7 594.34,192.5 631.27,212.5" fill="none" stroke="#a80000" stroke-width="0.65" stroke-linejoin="round"/><polyline points="495.86,250 508.17,250 532.79,245 594.34,246.2 631.27,225.3" fill="none" stroke="#2424f4" stroke-width="0.65" stroke-linejoin="round"/><polyline points="483.55,250 495.86,250 508.17,250 532.79,250 594.34,249.7" fill="none" stroke="#a0a0a0" stroke-width="1.6" stroke-linejoin="round"/><polyline points="594.34,249.7 631.27,243.7" fill="none" stroke="#222" stroke-width="0.75" stroke-linejoin="round"/><path d="M495.86 235.8V226.7" stroke="#a80000" stroke-width="0.65" fill="none"/><path d="M493.56 226.7H498.16" stroke="#a80000" stroke-width="0.75" fill="none"/><path d="M508.17 214.2V204.7" stroke="#a80000" stroke-width="0.65" fill="none"/><path d="M505.87 204.7H510.47" stroke="#a80000" stroke-width="0.75" fill="none"/><path d="M532.79 201.7V193.3" stroke="#a80000" stroke-width="0.65" fill="none"/><path d="M530.49 193.3H535.09" stroke="#a80000" stroke-width="0.75" fill="none"/><path d="M594.34 192.5V183" stroke="#a80000" stroke-width="0.65" fill="none"/><path d="M592.04 183H596.64" stroke="#a80000" stroke-width="0.75" fill="none"/><path d="M631.27 212.5V204.2" stroke="#a80000" stroke-width="0.65" fill="none"/><path d="M628.97 204.2H633.57" stroke="#a80000" stroke-width="0.75" fill="none"/><path d="M532.79 245V238.7" stroke="#2424f4" stroke-width="0.65" fill="none"/><path d="M530.49 238.7H535.09" stroke="#2424f4" stroke-width="0.75" fill="none"/><path d="M594.34 246.2V240.8" stroke="#2424f4" stroke-width="0.65" fill="none"/><path d="M592.04 240.8H596.64" stroke="#2424f4" stroke-width="0.75" fill="none"/><path d="M631.27 225.3V216.3" stroke="#2424f4" stroke-width="0.65" fill="none"/><path d="M628.97 216.3H633.57" stroke="#2424f4" stroke-width="0.75" fill="none"/><path d="M631.27 243.7V236.2" stroke="#000" stroke-width="0.65" fill="none"/><path d="M628.97 236.2H633.57" stroke="#000" stroke-width="0.75" fill="none"/><path d="M495.86 238.33L498.46 233.73L493.26 233.73Z" fill="#a80000"/><path d="M508.17 216.73L510.77 212.13L505.57 212.13Z" fill="#a80000"/><path d="M532.79 204.23L535.39 199.63L530.19 199.63Z" fill="#a80000"/><path d="M594.34 195.03L596.94 190.43L591.74 190.43Z" fill="#a80000"/><path d="M631.27 215.03L633.87 210.43L628.67 210.43Z" fill="#a80000"/><rect x="493.46" y="247.6" width="4.8" height="4.8" fill="#2424f4"/><rect x="505.77" y="247.6" width="4.8" height="4.8" fill="#2424f4"/><rect x="530.39" y="242.6" width="4.8" height="4.8" fill="#2424f4"/><rect x="591.94" y="243.8" width="4.8" height="4.8" fill="#2424f4"/><rect x="628.87" y="222.9" width="4.8" height="4.8" fill="#2424f4"/><circle cx="483.55" cy="250" r="2.35" fill="#000"/><rect x="493.86" y="248" width="4" height="4" rx="0.8" fill="#000"/><rect x="506.17" y="248" width="4" height="4" rx="0.8" fill="#000"/><circle cx="532.79" cy="250" r="2.35" fill="#000"/><circle cx="594.34" cy="249.7" r="2.35" fill="#000"/><circle cx="631.27" cy="243.7" r="2.35" fill="#000"/></g>
<g><path d="M610.2 155.5H620.7" stroke="#000" stroke-width="1"/><circle cx="615.45" cy="155.5" r="2.1" fill="#000"/><text x="625.7" y="157.7" font-size="7.7"  text-anchor="start" fill="#333">cntr</text><path d="M610.2 168.3H620.7" stroke="#2424f4" stroke-width="1"/><rect x="613.25" y="166.1" width="4.4" height="4.4" fill="#2424f4"/><text x="625.7" y="170.5" font-size="7.7"  text-anchor="start" fill="#333">LPS</text><path d="M610.2 181.1H620.7" stroke="#a80000" stroke-width="1"/><path d="M615.45 178.92L617.65 182.88L613.25 182.88Z" fill="#a80000"/><text x="625.7" y="183.3" font-size="7.7"  text-anchor="start" fill="#333" textLength="35.6" lengthAdjust="spacingAndGlyphs">PMA/Iono</text></g></svg>
</body></html>
